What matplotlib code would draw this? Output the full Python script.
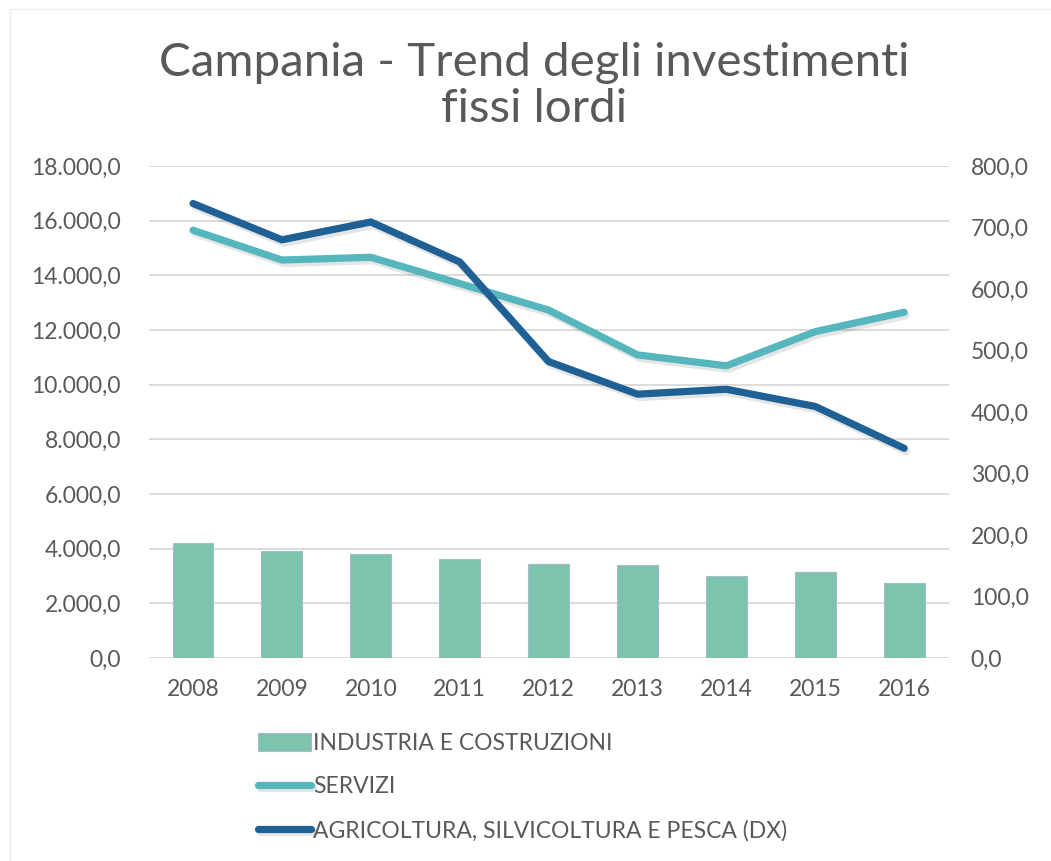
import numpy as np
import matplotlib
matplotlib.use("Agg")
import matplotlib.pyplot as plt
import matplotlib.patheffects as pe
from matplotlib.ticker import FuncFormatter

# data
anni = ['2008', '2009', '2010', '2011', '2012', '2013', '2014', '2015', '2016']
industria = [4220, 3925, 3815, 3630, 3440, 3400, 3010, 3135, 2755]
servizi = [15650, 14560, 14660, 13700, 12730, 11090, 10690, 11940, 12650]
agricoltura = [739, 680, 709, 644, 482, 429, 437, 409, 341]

titolo = 'Campania - Trend degli investimenti\nfissi lordi'
nomi = ['INDUSTRIA E COSTRUZIONI', 'SERVIZI', 'AGRICOLTURA, SILVICOLTURA E PESCA (DX)']

grigio = '#595959'
plt.rcParams['font.family'] = ['Lato', 'DejaVu Sans']

fig = plt.figure(figsize=(10.51, 8.61), dpi=100)
# faint chart-area border
fig.patches.append(plt.Rectangle((10 / 1051, -0.1), 1.2, 1 - 9 / 861 + 0.1,
                                 transform=fig.transFigure, fill=False,
                                 edgecolor='#EDEDED', lw=1))

ax = fig.add_axes([148.6 / 1051, 1 - 658 / 861, 800 / 1051, 492 / 861])
ax2 = ax.twinx()

x = np.arange(len(anni))
barre = ax.bar(x, industria, 0.46, color='#7DC4AE', edgecolor='#A3BCC8', lw=0.8, zorder=2)

ombra = [pe.SimpleLineShadow(offset=(1.5, -2.5), shadow_color='#000000', alpha=0.1), pe.Normal()]
l1, = ax.plot(x, servizi, color='#56B6BE', lw=5.2, solid_capstyle='round',
              solid_joinstyle='round', zorder=3, path_effects=ombra)
l2, = ax2.plot(x, agricoltura, color='#1F6095', lw=5.2, solid_capstyle='round',
               solid_joinstyle='round', zorder=3, path_effects=ombra)

ax.set_xlim(-0.5, len(anni) - 0.5)
ax.set_ylim(0, 18000)
ax.set_yticks(np.arange(0, 18001, 2000))
ax2.set_ylim(0, 800)
ax2.set_yticks(np.arange(0, 801, 100))

def fmt_it(v, pos=None):
    s = '{:,.1f}'.format(v)
    return s.replace(',', 'X').replace('.', ',').replace('X', '.')

ax.yaxis.set_major_formatter(FuncFormatter(fmt_it))
ax2.yaxis.set_major_formatter(FuncFormatter(fmt_it))
ax.set_xticks(x)
ax.set_xticklabels(anni)

ax.grid(axis='y', color='#D9D9D9', lw=1.3, zorder=0)
ax.set_axisbelow(True)
for a in (ax, ax2):
    for s in a.spines.values():
        s.set_visible(False)
ax.tick_params(axis='y', length=0, pad=20, labelsize=16.5, labelcolor=grigio)
ax.tick_params(axis='x', length=0, pad=15, labelsize=16.5, labelcolor=grigio)
ax2.tick_params(axis='y', length=0, pad=16, labelsize=16.5, labelcolor=grigio)

fig.text(534 / 1051, 1 - 86 / 861, titolo, ha='center', va='center',
         fontsize=34.2, color=grigio, linespacing=1.14)

leg = fig.legend([barre, l1, l2], nomi, loc='upper left',
                 bbox_to_anchor=(258 / 1051, 1 - 733 / 861), frameon=False,
                 fontsize=16.5, labelcolor=grigio, handlelength=2.3,
                 handleheight=0.85, handletextpad=0.1, labelspacing=0.97,
                 borderpad=0, borderaxespad=0)

fig.savefig('out.png', dpi=100)
